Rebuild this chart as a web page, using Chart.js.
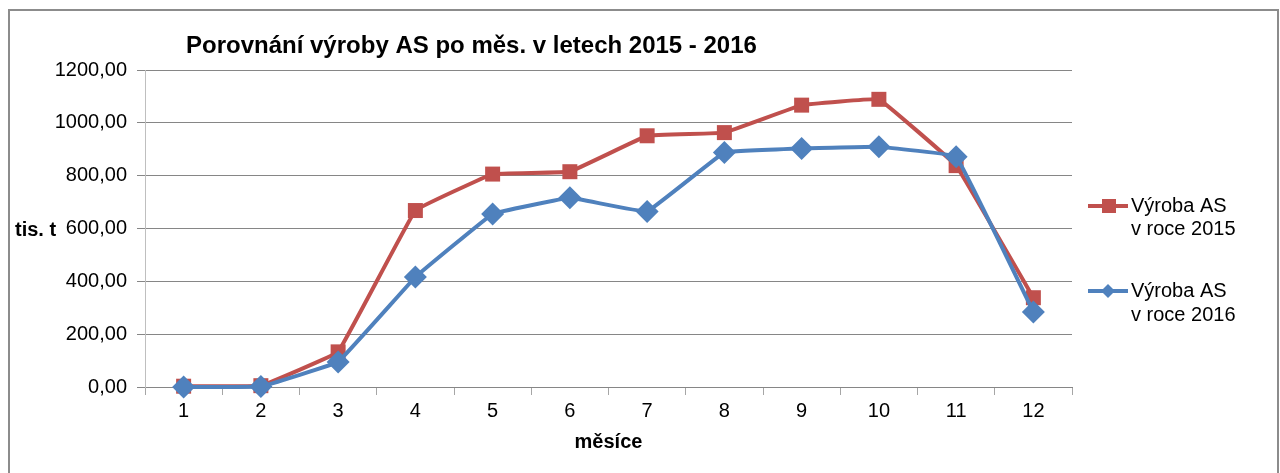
<!DOCTYPE html>
<html>
<head>
<meta charset="utf-8">
<script src="https://cdn.jsdelivr.net/npm/chart.js@4.4.0/dist/chart.umd.min.js"></script>
<style>
  body { margin: 0; background: #fff; }
  canvas { display: block; }
</style>
</head>
<body>
<canvas id="graf" width="1280" height="473"></canvas>
<script>
var mesice = ["1", "2", "3", "4", "5", "6", "7", "8", "9", "10", "11", "12"];
var vyroba2015 = [3, 5, 133, 668, 806, 815, 951, 963, 1067, 1089, 838, 338];
var vyroba2016 = [0, 2, 95, 416, 655, 716, 664, 888, 903, 909, 872, 284];
var popisky = [["Výroba AS", "v roce 2015"], ["Výroba AS", "v roce 2016"]];
var nadpis = "Porovnání výroby AS po měs. v letech 2015 - 2016";

var cervena = "#C0504D";
var modra = "#4F81BD";
var pismo = "'Liberation Sans', Arial, sans-serif";

// ramecek, nadpis, popisky os a legenda
let texty = {
    id: "texty",
    afterDraw: (chart) => {
        let ctx = chart.ctx;
        let area = chart.chartArea;
        ctx.save();
        ctx.strokeStyle = "#8c8c8c";
        ctx.lineWidth = 2;
        ctx.strokeRect(9, 10, 1269, 500);

        ctx.fillStyle = "#000";
        ctx.textBaseline = "alphabetic";
        ctx.textAlign = "left";
        ctx.font = "bold 24px " + pismo;
        ctx.fillText(nadpis, 186, 53);

        ctx.font = "bold 20px " + pismo;
        ctx.textBaseline = "middle";
        ctx.fillText("tis. t", 15, 230);
        ctx.textAlign = "center";
        ctx.fillText("měsíce", (area.left + area.right) / 2, 442);

        // legenda
        let radky = [[206, 229], [291, 315]];
        let serie = [chart.data.datasets[0], chart.data.datasets[1]];
        ctx.font = "20px " + pismo;
        ctx.textAlign = "left";
        for (let i = 0; i < serie.length; i++) {
            let y = radky[i][0];
            ctx.strokeStyle = serie[i].borderColor;
            ctx.lineWidth = 4;
            ctx.beginPath();
            ctx.moveTo(1088, y);
            ctx.lineTo(1128, y);
            ctx.stroke();
            ctx.fillStyle = serie[i].backgroundColor;
            if (serie[i].pointStyle == "rect") {
                ctx.fillRect(1102, y - 7, 14, 14);
            } else {
                ctx.beginPath();
                ctx.moveTo(1108, y - 7);
                ctx.lineTo(1115, y);
                ctx.lineTo(1108, y + 7);
                ctx.lineTo(1101, y);
                ctx.closePath();
                ctx.fill();
            }
            ctx.fillStyle = "#000";
            ctx.fillText(popisky[i][0], 1131, radky[i][0]);
            ctx.fillText(popisky[i][1], 1131, radky[i][1]);
        }
        ctx.restore();
    }
};

let graf = new Chart(document.getElementById("graf"), {
    type: "line",
    data: {
        labels: mesice,
        datasets: [{
            label: popisky[0].join(" "),
            data: vyroba2015,
            borderColor: cervena,
            backgroundColor: cervena,
            borderWidth: 4,
            pointStyle: "rect",
            pointRadius: 10.6,
            pointBorderWidth: 0,
            tension: 0.05,
            clip: false,
            order: 1
        }, {
            label: popisky[1].join(" "),
            data: vyroba2016,
            borderColor: modra,
            backgroundColor: modra,
            borderWidth: 4,
            pointStyle: "rectRot",
            pointRadius: 11.5,
            pointBorderWidth: 0,
            tension: 0.05,
            clip: false,
            order: 0
        }]
    },
    options: {
        responsive: false,
        animation: false,
        layout: { padding: { left: 0, top: 70, right: 208, bottom: 0 } },
        plugins: {
            legend: { display: false },
            tooltip: { enabled: false }
        },
        scales: {
            x: {
                offset: true,
                afterFit: (scale) => { scale.height = 86; },
                grid: {
                    offset: true,
                    drawOnChartArea: false,
                    tickLength: 8,
                    color: "#a6a6a6"
                },
                border: { color: "#868686", width: 1 },
                ticks: {
                    color: "#000",
                    padding: 4,
                    font: { family: pismo, size: 20 }
                }
            },
            y: {
                min: 0,
                max: 1200,
                afterFit: (scale) => { scale.width = 145; },
                grid: { color: "#868686", tickLength: 8 },
                border: { color: "#bfbfbf", width: 1 },
                ticks: {
                    stepSize: 200,
                    color: "#000",
                    padding: 10,
                    font: { family: pismo, size: 20 },
                    callback: (v) => v.toFixed(2).replace(".", ",")
                }
            }
        }
    },
    plugins: [texty]
});
</script>
</body>
</html>
